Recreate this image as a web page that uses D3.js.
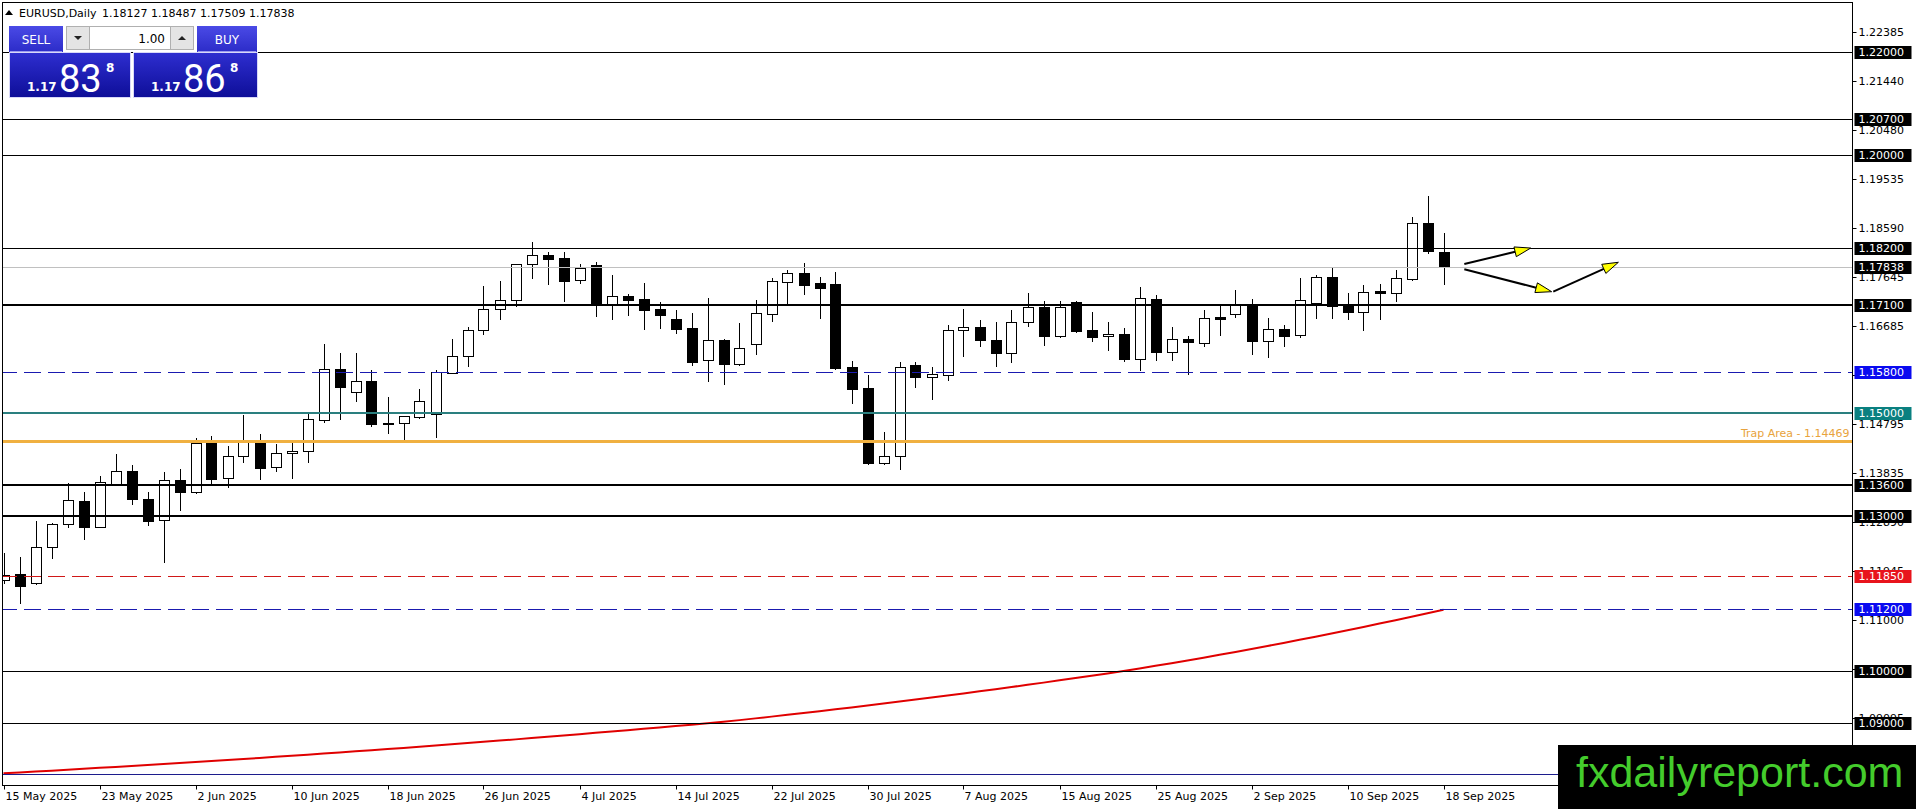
<!DOCTYPE html>
<html>
<head>
<meta charset="utf-8">
<script src="https://cdn.jsdelivr.net/npm/d3@7"></script>
<style>
    html, body { margin: 0; padding: 0; background: #fff; overflow: hidden; }
    svg { display: block; font-family: "DejaVu Sans", sans-serif; }
</style>
</head>
<body>
<svg id="chart" width="1916" height="809"></svg>
<script>
// ---- data ----
const symbolName = "EURUSD,Daily"

// one label every 6 daily bars, first one on bar 0
const dateLabels = ["15 May 2025", "23 May 2025", "2 Jun 2025", "10 Jun 2025", "18 Jun 2025", "26 Jun 2025",
    "4 Jul 2025", "14 Jul 2025", "22 Jul 2025", "30 Jul 2025", "7 Aug 2025", "15 Aug 2025",
    "25 Aug 2025", "2 Sep 2025", "10 Sep 2025", "18 Sep 2025"]
const barsPerLabel = 6

const opens = [1.11765, 1.11882, 1.11701, 1.12399, 1.12845, 1.13300, 1.12800, 1.13621, 1.13878, 1.13336,
    1.12923, 1.13698, 1.13465, 1.14415, 1.13737, 1.14163, 1.14460, 1.13950, 1.14221, 1.14260,
    1.14872, 1.15856, 1.15404, 1.15623, 1.14795, 1.14803, 1.14931, 1.14977, 1.15772, 1.16100,
    1.16606, 1.17013, 1.17199, 1.17885, 1.18059, 1.18000, 1.17575, 1.17866, 1.17091, 1.17265,
    1.17207, 1.17018, 1.16824, 1.16650, 1.16024, 1.16418, 1.15959, 1.16334, 1.16927, 1.17547,
    1.17716, 1.17522, 1.17503, 1.15894, 1.15487, 1.14039, 1.14163, 1.15927, 1.15706, 1.15745,
    1.16605, 1.16670, 1.16411, 1.16160, 1.16761, 1.17057, 1.16495, 1.17154, 1.16605, 1.16489,
    1.16534, 1.16055, 1.17212, 1.16179, 1.16431, 1.16366, 1.16869, 1.16927, 1.17110, 1.16404,
    1.16625, 1.16508, 1.17129, 1.17633, 1.17122, 1.16954, 1.17361, 1.17323, 1.17606, 1.18680,
    1.18127]
const highs = [1.12289, 1.12206, 1.12909, 1.12870, 1.13640, 1.13465, 1.13781, 1.14208, 1.13991, 1.13465,
    1.13853, 1.13917, 1.14512, 1.14557, 1.14363, 1.14964, 1.14590, 1.14402, 1.14460, 1.15008,
    1.16340, 1.16166, 1.16166, 1.15836, 1.15313, 1.14950, 1.15468, 1.15836, 1.16443, 1.16664,
    1.17464, 1.17561, 1.17890, 1.18311, 1.18117, 1.18117, 1.17885, 1.17929, 1.17672, 1.17315,
    1.17522, 1.17154, 1.17000, 1.16935, 1.17226, 1.16437, 1.16747, 1.17193, 1.17613, 1.17774,
    1.17910, 1.17639, 1.17736, 1.16010, 1.15739, 1.14634, 1.15985, 1.15997, 1.15894, 1.16702,
    1.17018, 1.16805, 1.16761, 1.16993, 1.17323, 1.17168, 1.17168, 1.17168, 1.16960, 1.16766,
    1.16650, 1.17451, 1.17284, 1.16675, 1.16495, 1.17000, 1.17110, 1.17387, 1.17212, 1.16844,
    1.16708, 1.17619, 1.17672, 1.17813, 1.17323, 1.17478, 1.17497, 1.17774, 1.18796, 1.19209,
    1.18487]
const lows = [1.11707, 1.11326, 1.11690, 1.12198, 1.12800, 1.12566, 1.12790, 1.13620, 1.13239, 1.12837,
    1.12120, 1.13122, 1.13460, 1.13651, 1.13574, 1.14059, 1.13730, 1.13884, 1.13749, 1.14059,
    1.14834, 1.14886, 1.15235, 1.14756, 1.14621, 1.14499, 1.14912, 1.14543, 1.15770, 1.15919,
    1.16540, 1.16819, 1.17082, 1.17625, 1.17497, 1.17179, 1.17528, 1.16889, 1.16830, 1.16902,
    1.16631, 1.16656, 1.16559, 1.15933, 1.15629, 1.15570, 1.15940, 1.16152, 1.16792, 1.17129,
    1.17315, 1.16844, 1.15861, 1.15196, 1.14020, 1.14020, 1.13923, 1.15512, 1.15274, 1.15642,
    1.16107, 1.16301, 1.15919, 1.15997, 1.16695, 1.16326, 1.16470, 1.16578, 1.16404, 1.16224,
    1.16016, 1.15836, 1.16030, 1.16030, 1.15759, 1.16307, 1.16520, 1.16869, 1.16140, 1.16094,
    1.16307, 1.16482, 1.16844, 1.16844, 1.16830, 1.16617, 1.16825, 1.17180, 1.17581, 1.18098,
    1.17509]
const closes = [1.11862, 1.11655, 1.12399, 1.12851, 1.13310, 1.12800, 1.13659, 1.13878, 1.13330, 1.12915,
    1.13698, 1.13477, 1.14415, 1.13717, 1.14163, 1.14454, 1.13942, 1.14221, 1.14266, 1.14880,
    1.15850, 1.15512, 1.15617, 1.14795, 1.14814, 1.14938, 1.15229, 1.15797, 1.16107, 1.16606,
    1.17013, 1.17187, 1.17885, 1.18059, 1.17993, 1.17567, 1.17808, 1.17091, 1.17265, 1.17199,
    1.17005, 1.16908, 1.16637, 1.15984, 1.16412, 1.15959, 1.16257, 1.16935, 1.17555, 1.17710,
    1.17490, 1.17431, 1.15881, 1.15473, 1.14039, 1.14163, 1.15888, 1.15706, 1.15758, 1.16611,
    1.16670, 1.16423, 1.16160, 1.16761, 1.17057, 1.16489, 1.17057, 1.16598, 1.16470, 1.16528,
    1.16055, 1.17226, 1.16191, 1.16431, 1.16385, 1.16838, 1.16831, 1.17115, 1.16404, 1.16625,
    1.16501, 1.17187, 1.17633, 1.17082, 1.16954, 1.17342, 1.17328, 1.17613, 1.18680, 1.18137,
    1.17838]

// the red moving average
const ma200 = [1.08020, 1.08037, 1.08054, 1.08071, 1.08089, 1.08107, 1.08125, 1.08143, 1.08161, 1.08180,
    1.08199, 1.08218, 1.08237, 1.08257, 1.08277, 1.08297, 1.08317, 1.08338, 1.08359, 1.08380,
    1.08401, 1.08423, 1.08445, 1.08467, 1.08489, 1.08512, 1.08535, 1.08558, 1.08581, 1.08605,
    1.08629, 1.08653, 1.08677, 1.08702, 1.08727, 1.08752, 1.08777, 1.08803, 1.08829, 1.08855,
    1.08881, 1.08908, 1.08935, 1.08962, 1.08989, 1.09017, 1.09050, 1.09084, 1.09118, 1.09153,
    1.09188, 1.09224, 1.09260, 1.09297, 1.09334, 1.09372, 1.09410, 1.09449, 1.09488, 1.09528,
    1.09568, 1.09609, 1.09650, 1.09692, 1.09734, 1.09777, 1.09821, 1.09865, 1.09910, 1.09955,
    1.10001, 1.10051, 1.10102, 1.10154, 1.10207, 1.10261, 1.10316, 1.10372, 1.10429, 1.10487,
    1.10546, 1.10606, 1.10667, 1.10729, 1.10792, 1.10856, 1.10921, 1.10987, 1.11054, 1.11122,
    1.11191]

// right price scale ticks
const priceTicks = [1.22385, 1.21440, 1.20480, 1.19535, 1.18590, 1.17645, 1.16685, 1.15740,
    1.14795, 1.13835, 1.12890, 1.11945, 1.11000, 1.10040, 1.09095, 1.08135]

// horizontal levels drawn on the chart
const blackLevels = [1.22, 1.207, 1.20, 1.182, 1.171, 1.136, 1.13, 1.10, 1.09]
const blueDashLevels = [1.158, 1.112]
const redDashLevels = [1.1185]
const tealLevels = [1.15]
const trapLevel = 1.14469
const bottomLevel = 1.08
const bidPrice = 1.17838

// one click panel quotes
const sellQuote = ["1.17", "83", "8"]
const buyQuote = ["1.17", "86", "8"]
const lotSize = "1.00"

// projected path after the last bar: [bar, price] pairs
const arrows = [
    {from: [91.3, 1.1789], to: [95.45, 1.1820]},
    {from: [91.3, 1.1779], to: [96.76, 1.17354]},
    {from: [96.86, 1.17354], to: [100.93, 1.17924]}
]

// ---- layout ----
const axisX = 1852.5
const plotTop = 2.5
const plotBottom = 785.5

const bars = closes.map((c, i) => ({i: i, o: opens[i], h: highs[i], l: lows[i], c: c}))

const x = d3.scaleLinear().domain([0, 90]).range([3.5, 1443.5])
const y = d3.scaleLinear().domain([1.08, 1.22]).range([774.3, 52])
const fmt = d3.format(".5f")

// crisp pixel position for a line of given width
function snap(v, w) {
    return (w % 2) ? Math.round(v) + 0.5 : Math.round(v)
}

const svg = d3.select("#chart")
const defs = svg.append("defs")

defs.append("clipPath").attr("id", "plotClip")
    .append("rect").attr("x", 3).attr("y", 3).attr("width", axisX - 3.5).attr("height", plotBottom - 3.5)

function gradient(id, top, bottom) {
    const g = defs.append("linearGradient").attr("id", id).attr("x1", 0).attr("y1", 0).attr("x2", 0).attr("y2", 1)
    g.append("stop").attr("offset", "0%").attr("stop-color", top)
    g.append("stop").attr("offset", "100%").attr("stop-color", bottom)
}
gradient("btnGrad", "#4a4ae6", "#2c2cc8")
gradient("quoteGrad", "#2e2ed0", "#0e0e98")

const plot = svg.append("g").attr("clip-path", "url(#plotClip)")

// moving average
plot.append("path")
    .datum(ma200)
    .attr("fill", "none")
    .attr("stroke", "#e00000")
    .attr("stroke-width", 2)
    .attr("d", d3.line().x((d, i) => x(i)).y(d => y(d)))

// candles
const candle = plot.append("g").selectAll("g").data(bars).join("g")

candle.append("line")
    .attr("x1", d => snap(x(d.i), 1)).attr("x2", d => snap(x(d.i), 1))
    .attr("y1", d => Math.round(y(d.h))).attr("y2", d => Math.round(y(d.l)) + 1)
    .attr("stroke", "#000")
    .attr("stroke-width", 1)

candle.append("rect")
    .attr("x", d => snap(x(d.i), 1) - 5)
    .attr("width", 10)
    .attr("y", d => snap(y(Math.max(d.o, d.c)), 1))
    .attr("height", d => Math.max(snap(y(Math.min(d.o, d.c)), 1) - snap(y(Math.max(d.o, d.c)), 1), 1))
    .attr("fill", d => d.c >= d.o ? "#fff" : "#000")
    .attr("stroke", "#000")
    .attr("stroke-width", 1)

// horizontal levels sit on top of the candles like in MT4
const thickLevels = [1.171, 1.136, 1.13]

function hline(price, color, width, dash) {
    const yy = snap(y(price), width)
    plot.append("line")
        .attr("x1", 0).attr("x2", axisX)
        .attr("y1", yy).attr("y2", yy)
        .attr("stroke", color)
        .attr("stroke-width", width)
        .attr("stroke-dasharray", dash || null)
}

hline(bidPrice, "#c0c0c0", 1)
blackLevels.forEach(p => hline(p, "#000", thickLevels.includes(p) ? 2 : 1))
blueDashLevels.forEach(p => hline(p, "#1a1ab0", 1, "17,7"))
redDashLevels.forEach(p => hline(p, "#d01818", 1, "17,7"))
tealLevels.forEach(p => hline(p, "#2a7f7f", 2))
hline(trapLevel, "#f0b040", 3)
hline(bottomLevel, "#1c1c8c", 1)

plot.append("text")
    .attr("x", axisX - 3)
    .attr("y", y(trapLevel) - 4)
    .attr("text-anchor", "end")
    .attr("font-size", 11)
    .attr("fill", "#e8a33c")
    .text("Trap Area - " + fmt(trapLevel))

// arrows with yellow heads
const arrowG = plot.append("g")
arrows.forEach(a => {
    const x1 = x(a.from[0]), y1 = y(a.from[1])
    const x2 = x(a.to[0]), y2 = y(a.to[1])
    const len = Math.hypot(x2 - x1, y2 - y1)
    const ux = (x2 - x1) / len, uy = (y2 - y1) / len
    const headLen = 16, headW = 5
    const bx = x2 - ux * headLen, by = y2 - uy * headLen
    arrowG.append("line")
        .attr("x1", x1).attr("y1", y1).attr("x2", bx).attr("y2", by)
        .attr("stroke", "#000").attr("stroke-width", 2)
    arrowG.append("polygon")
        .attr("points", [[x2, y2], [bx - uy * headW, by + ux * headW], [bx + uy * headW, by - ux * headW]].map(p => p.join(",")).join(" "))
        .attr("fill", "#ffff00")
        .attr("stroke", "#000")
        .attr("stroke-width", 1)
})

// frame
svg.append("rect")
    .attr("x", 2.5).attr("y", plotTop)
    .attr("width", axisX - 2.5).attr("height", plotBottom - plotTop)
    .attr("fill", "none")
    .attr("stroke", "#000")

// price scale
const ticks = svg.append("g").selectAll("g").data(priceTicks).join("g")
    .attr("transform", d => `translate(0,${snap(y(d), 1)})`)
ticks.append("line").attr("x1", axisX).attr("x2", axisX + 4).attr("stroke", "#000")
ticks.append("text")
    .attr("x", axisX + 6).attr("dy", "0.36em")
    .attr("font-size", 11).attr("fill", "#000")
    .text(d => fmt(d))

const levelLabels = []
blackLevels.forEach(p => levelLabels.push({p: p, bg: "#000"}))
blueDashLevels.forEach(p => levelLabels.push({p: p, bg: "#0a0af0"}))
redDashLevels.forEach(p => levelLabels.push({p: p, bg: "#e8141c"}))
tealLevels.forEach(p => levelLabels.push({p: p, bg: "#0a8080"}))
levelLabels.push({p: bottomLevel, bg: "#000"})
levelLabels.push({p: bidPrice, bg: "#000"})

const labels = svg.append("g").selectAll("g").data(levelLabels).join("g")
    .attr("transform", d => `translate(0,${Math.round(y(d.p))})`)
labels.append("rect")
    .attr("x", axisX + 2).attr("y", -6).attr("width", 57).attr("height", 13)
    .attr("fill", d => d.bg)
labels.append("text")
    .attr("x", axisX + 6).attr("y", 0.5).attr("dy", "0.36em")
    .attr("font-size", 11).attr("fill", "#fff")
    .text(d => fmt(d.p))

// time scale
const timeTicks = svg.append("g").selectAll("g").data(dateLabels).join("g")
    .attr("transform", (d, k) => `translate(${snap(x(k * barsPerLabel), 1)},0)`)
timeTicks.append("line").attr("y1", plotBottom).attr("y2", plotBottom + 4).attr("stroke", "#000")
timeTicks.append("text")
    .attr("x", 1).attr("y", 800)
    .attr("font-size", 11).attr("fill", "#000")
    .text(d => d)

// header line
const last = bars[bars.length - 1]
svg.append("path").attr("d", "M5,15 L9,10 L13,15 Z").attr("fill", "#000")
svg.append("text").attr("x", 19).attr("y", 17).attr("font-size", 11).attr("fill", "#000").text(symbolName)
svg.append("text").attr("x", 102).attr("y", 17).attr("font-size", 11).attr("fill", "#000")
    .text([last.o, last.h, last.l, last.c].map(fmt).join(" "))

// one click trading panel
const panel = svg.append("g")
panel.append("rect").attr("x", 9).attr("y", 26).attr("width", 54).attr("height", 26).attr("fill", "url(#btnGrad)")
panel.append("rect").attr("x", 197).attr("y", 26).attr("width", 60).attr("height", 26).attr("fill", "url(#btnGrad)")
panel.append("line").attr("x1", 10).attr("x2", 62).attr("y1", 51.5).attr("y2", 51.5).attr("stroke", "#9a9af0")
panel.append("line").attr("x1", 198).attr("x2", 256).attr("y1", 51.5).attr("y2", 51.5).attr("stroke", "#9a9af0")
panel.append("text").attr("x", 36).attr("y", 44).attr("text-anchor", "middle").attr("font-size", 12).attr("fill", "#fff").text("SELL")
panel.append("text").attr("x", 227).attr("y", 44).attr("text-anchor", "middle").attr("font-size", 12).attr("fill", "#fff").text("BUY")

panel.append("rect").attr("x", 66.5).attr("y", 26.5).attr("width", 23).attr("height", 23).attr("fill", "#e4e4e4").attr("stroke", "#b0b0b0")
panel.append("rect").attr("x", 89.5).attr("y", 26.5).attr("width", 81).attr("height", 23).attr("fill", "#fff").attr("stroke", "#b0b0b0")
panel.append("rect").attr("x", 170.5).attr("y", 26.5).attr("width", 23).attr("height", 23).attr("fill", "#e4e4e4").attr("stroke", "#b0b0b0")
panel.append("path").attr("d", "M74,36 L82,36 L78,40 Z").attr("fill", "#222")
panel.append("path").attr("d", "M178,40 L186,40 L182,36 Z").attr("fill", "#222")
panel.append("text").attr("x", 165).attr("y", 43).attr("text-anchor", "end").attr("font-size", 12).attr("fill", "#000").text(lotSize)

function quoteBox(x0, w, q) {
    panel.append("rect").attr("x", x0 + 0.5).attr("y", 52.5).attr("width", w).attr("height", 45)
        .attr("fill", "url(#quoteGrad)").attr("stroke", "#d8d8f8")
    panel.append("text").attr("x", x0 + 18).attr("y", 91).attr("font-size", 12).attr("font-weight", "bold").attr("fill", "#fff").text(q[0])
    panel.append("text").attr("x", x0 + 50).attr("y", 92).attr("font-family", "Roboto, sans-serif").attr("font-size", 38).attr("fill", "#fff").text(q[1])
    panel.append("text").attr("x", x0 + 97).attr("y", 72).attr("font-size", 12).attr("font-weight", "bold").attr("fill", "#fff").text(q[2])
}
quoteBox(9, 121, sellQuote)
quoteBox(133, 124, buyQuote)

// watermark
svg.append("rect").attr("x", 1558).attr("y", 745).attr("width", 358).attr("height", 64).attr("fill", "#000")
svg.append("text")
    .attr("x", 1576).attr("y", 787)
    .attr("font-family", "'Liberation Sans', Arial, sans-serif")
    .attr("font-size", 43)
    .attr("fill", "#44cc2c")
    .text("fxdailyreport.com")
</script>
</body>
</html>
